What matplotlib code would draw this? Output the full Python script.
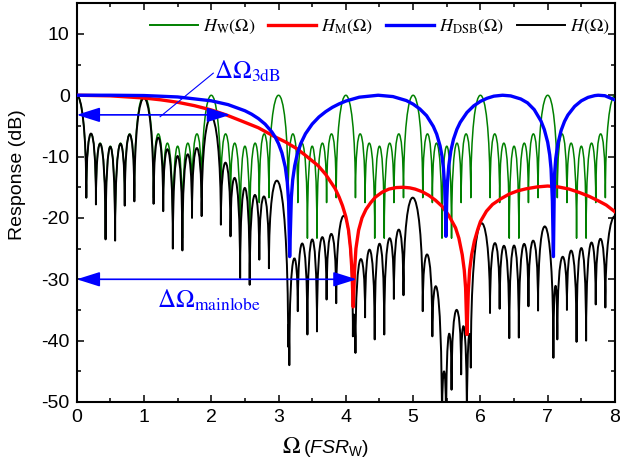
import numpy as np
import matplotlib.pyplot as plt
from matplotlib.path import Path
from matplotlib.patches import PathPatch
from matplotlib.lines import Line2D

plt.rcParams['font.family'] = ['Liberation Sans', 'DejaVu Sans']
plt.rcParams['axes.unicode_minus'] = False
plt.rcParams['mathtext.fontset'] = 'custom'
plt.rcParams['mathtext.rm'] = 'Liberation Sans'
plt.rcParams['mathtext.it'] = 'Liberation Sans:italic'

# ---- H_W(Omega): one FSR period, it repeats every FSR_W ----
w_null_offsets = [0.143, 0.286, 0.429, 0.571, 0.714, 0.857]
w_null_db = [-16.7, -17.5, -23.3, -23.3, -17.5, -16.7]
w_sidelobe_db = [-6.3, -7.9, -8.3, -7.9, -6.3]
w_main_db = 0.0
n_periods = 8

# ---- H(Omega): nulls (position, depth) and the lobe tops between them ----
h_null_x = [-0.143,
            0.143, 0.286, 0.429, 0.571, 0.714, 0.857,
            1.143, 1.286, 1.429, 1.571, 1.714, 1.857,
            2.143, 2.286, 2.429, 2.571, 2.714, 2.857,
            3.143, 3.160, 3.286, 3.429, 3.571, 3.714, 3.857,
            4.105, 4.143, 4.286, 4.429, 4.571, 4.714, 4.857,
            5.143, 5.286, 5.429, 5.490, 5.571, 5.714, 5.800, 5.857,
            6.143, 6.286, 6.429, 6.571, 6.714, 6.857,
            7.085, 7.143, 7.286, 7.429, 7.571, 7.714, 7.857,
            8.143]
h_null_db = [-16.7,
             -16.7, -17.8, -23.5, -23.7, -18.0, -17.3,
             -17.7, -18.9, -25.0, -25.3, -20.0, -19.7,
             -21.1, -23.0, -29.8, -30.9, -26.8, -28.2,
             -41.0, -44.0, -35.2, -39.0, -38.5, -33.3, -33.9,
             -39.3, -42.0, -36.2, -39.8, -39.0, -33.2, -32.6,
             -35.2, -39.3, -55.0, -55.0, -48.0, -45.5, -55.0, -44.4,
             -35.5, -34.8, -39.6, -39.5, -34.4, -35.1,
             -42.8, -39.8, -35.0, -40.2, -40.0, -34.1, -34.6,
             -34.6]
h_peak_db = [0.0,
             -6.25, -8.0, -8.4, -8.0, -6.4, -0.45,
             -6.9, -8.9, -9.9, -9.7, -8.6, -3.5,
             -11.0, -13.6, -15.1, -16.3, -16.5, -14.2,
             -37.5, -26.8, -24.2, -23.5, -23.2, -22.6, -19.7,
             -35.8, -26.8, -25.2, -24.2, -23.4, -21.9, -16.7,
             -26.0, -31.7, -45.0, -39.0, -35.0, -37.9, -39.3, -21.0,
             -24.1, -24.6, -24.5, -24.3, -23.7, -21.5,
             -31.1, -26.4, -25.4, -24.9, -24.1, -23.4, -19.7]

# ---- H_M(Omega) ----
m_x = [0, 0.5, 1.0, 1.25, 1.5, 1.75, 2.0, 2.22, 2.45, 2.7, 2.95, 3.1, 3.27, 3.4,
       3.59, 3.7, 3.84, 3.9, 3.95, 4.0, 4.04, 4.07, 4.09, 4.11, 4.13, 4.15, 4.19,
       4.24, 4.3, 4.37, 4.44, 4.54, 4.64, 4.75, 4.85, 4.95, 5.03, 5.13, 5.23, 5.33,
       5.43, 5.53, 5.63, 5.68, 5.73, 5.76, 5.78, 5.80, 5.82, 5.84, 5.87, 5.91, 5.96,
       6.0, 6.09, 6.18, 6.3, 6.43, 6.55, 6.68, 6.84, 7.0, 7.16, 7.32, 7.47, 7.62,
       7.75, 7.87, 8.0]
m_db = [0, -0.1, -0.45, -0.75, -1.15, -1.7, -2.4, -3.2, -4.2, -5.3, -6.8, -7.6, -8.7,
        -9.8, -11.5, -12.9, -15.2, -16.6, -18.0, -19.8, -22.0, -25.0, -28.5, -34.5,
        -28.5, -25.0, -22.0, -20.0, -18.6, -17.5, -16.6, -15.8, -15.3, -15.05, -15.0,
        -15.1, -15.3, -15.7, -16.3, -17.1, -18.1, -19.6, -21.6, -23.3, -26.0, -28.5,
        -31.4, -39.0, -32.0, -28.5, -26.0, -23.8, -21.9, -20.6, -18.9, -17.8, -16.9,
        -16.1, -15.6, -15.25, -14.95, -14.8, -14.95, -15.3, -15.85, -16.5, -17.2,
        -17.9, -19.0]

# ---- H_DSB(Omega) ----
d_x = [0, 0.5, 1.0, 1.5, 2.0, 2.25, 2.5, 2.6, 2.7, 2.8, 2.9, 2.95, 3.0, 3.05, 3.1,
       3.13, 3.15, 3.165, 3.19, 3.21, 3.24, 3.28, 3.33, 3.4, 3.5, 3.6, 3.7, 3.8, 3.9,
       4.0, 4.2, 4.48, 4.7, 4.9, 5.0, 5.1, 5.2, 5.3, 5.35, 5.4, 5.43, 5.45, 5.47,
       5.48, 5.488, 5.50, 5.51, 5.53, 5.56, 5.6, 5.65, 5.7, 5.8, 5.9, 6.0, 6.1, 6.2,
       6.33, 6.45, 6.6, 6.7, 6.8, 6.9, 6.95, 7.0, 7.03, 7.05, 7.07, 7.085, 7.10, 7.12,
       7.15, 7.2, 7.25, 7.3, 7.4, 7.5, 7.6, 7.7, 7.75, 7.85, 8.0]
d_db = [0, 0, -0.05, -0.28, -0.91, -1.53, -2.53, -3.09, -3.8, -4.71, -5.98, -6.82,
        -7.91, -9.39, -11.7, -14.2, -17.4, -26.3, -16.7, -13.8, -11.5, -9.5, -7.87,
        -6.28, -4.7, -3.55, -2.68, -1.97, -1.41, -0.95, -0.32, 0, -0.22, -0.87, -1.45,
        -2.24, -3.33, -5.08, -6.34, -8.23, -9.98, -11.8, -15.0, -18.4, -23.0, -17.0,
        -14.3, -11.5, -9.1, -7.17, -5.57, -4.42, -2.81, -1.74, -1.0, -0.49, -0.15, 0,
        -0.11, -0.61, -1.24, -2.35, -4.2, -5.6, -7.67, -9.73, -12.0, -17.3, -26.3,
        -13.2, -10.3, -8.0, -5.72, -4.27, -3.23, -1.82, -0.91, -0.35, -0.06, 0, -0.08,
        -0.77]

col_w, col_m, col_d, col_h = '#008000', '#ff0000', '#0000ff', '#000000'


def lobe_path(null_x, null_y, peak_y):
    # each lobe is one cubic Bezier with vertical handles at both nulls
    verts = [(null_x[0], null_y[0])]
    codes = [Path.MOVETO]
    for i, p in enumerate(peak_y):
        x0, y0 = null_x[i], null_y[i]
        x1, y1 = null_x[i + 1], null_y[i + 1]
        c = (8 * p - y0 - y1) / 6.0
        verts += [(x0, c), (x1, c), (x1, y1)]
        codes += [Path.CURVE4] * 3
    return Path(verts, codes)


# build the H_W lobes over the 8 periods
g_x, g_y, g_pk = [-w_null_offsets[0]], [w_null_db[0]], [w_main_db]
for n in range(n_periods):
    g_x += [n + o for o in w_null_offsets]
    g_y += w_null_db
    g_pk += w_sidelobe_db + [w_main_db]
g_x.append(n_periods + w_null_offsets[0])
g_y.append(w_null_db[-1])

fig = plt.figure(figsize=(6.2, 4.58), dpi=100)
ax = fig.add_axes([0.1237, 0.1223, 0.8682, 0.8707])

ax.add_patch(PathPatch(lobe_path(g_x, g_y, g_pk), fill=False, edgecolor=col_w,
                       lw=1.1, joinstyle='round', zorder=2))
ax.add_patch(PathPatch(lobe_path(h_null_x, h_null_db, h_peak_db), fill=False,
                       edgecolor=col_h, lw=1.4, joinstyle='round', zorder=3))
ax.plot(m_x, m_db, color=col_m, lw=2.4, zorder=4)
ax.plot(d_x, d_db, color=col_d, lw=2.4, zorder=5)

# annotations
arr = dict(arrowstyle='<|-|>,head_length=0.95,head_width=0.3', color=col_d, lw=1.2,
           shrinkA=0, shrinkB=0, mutation_scale=15)
ax.annotate('', xy=(0, -3.2), xytext=(2.28, -3.2), arrowprops=arr, zorder=6)
ax.annotate('', xy=(0, -30), xytext=(4.16, -30), arrowprops=arr, zorder=6)
ax.plot([1.24, 2.03], [-3.5, 3.6], color=col_d, lw=0.8, zorder=6)
t1 = ax.text(2.04, 2.7, r'$\Delta\Omega_{\mathrm{3dB}}$', color=col_d, fontsize=18,
             ha='left', va='baseline', zorder=7)
t2 = ax.text(1.19, -34.6, r'$\Delta\Omega_{\mathrm{mainlobe}}$', color=col_d, fontsize=18,
             ha='left', va='baseline', zorder=7)
for t in (t1, t2):
    t.set_math_fontfamily('stix')

ax.set_xlim(0, 8)
ax.set_ylim(-50, 15)
ax.set_xticks(np.arange(0, 9, 1))
ax.set_xticks(np.arange(0, 8.5, 0.5), minor=True)
ax.set_yticks(np.arange(-50, 11, 10))
ax.set_yticks(np.arange(-50, 16, 5), minor=True)
ax.tick_params(which='both', direction='in', top=True, right=True, width=1.1,
               labelsize=14)
ax.tick_params(which='major', length=5, pad=5)
ax.tick_params(which='minor', length=2.8)
for s in ax.spines.values():
    s.set_linewidth(1.5)

ax.text(-0.11, 0.569, 'Response (dB)', transform=ax.transAxes, rotation=90,
        ha='center', va='center', fontsize=14)
xl1 = ax.text(0.417, -0.128, r'$\Omega$', transform=ax.transAxes, ha='right',
              va='baseline', fontsize=17)
xl1.set_math_fontfamily('stix')
ax.text(0.42, -0.128, r'$(\mathit{FSR}_{\mathrm{W}})$', transform=ax.transAxes,
        ha='left', va='baseline', fontsize=14)

handles = [Line2D([], [], color=c, lw=lw) for c, lw in
           [(col_w, 1.4), (col_m, 2.4), (col_d, 2.4), (col_h, 1.4)]]
labels = [r'$H_{\mathrm{W}}(\Omega)$', r'$H_{\mathrm{M}}(\Omega)$',
          r'$H_{\mathrm{DSB}}(\Omega)$', r'$H(\Omega)$']
leg = ax.legend(handles, labels, loc='center left', bbox_to_anchor=(0.136, 0.94),
                ncol=4, frameon=False, fontsize=13, handlelength=2.65,
                handletextpad=0.28, columnspacing=0.72, borderpad=0, borderaxespad=0)
for t in leg.get_texts():
    t.set_math_fontfamily('stix')

fig.savefig('out.png', dpi=100)
